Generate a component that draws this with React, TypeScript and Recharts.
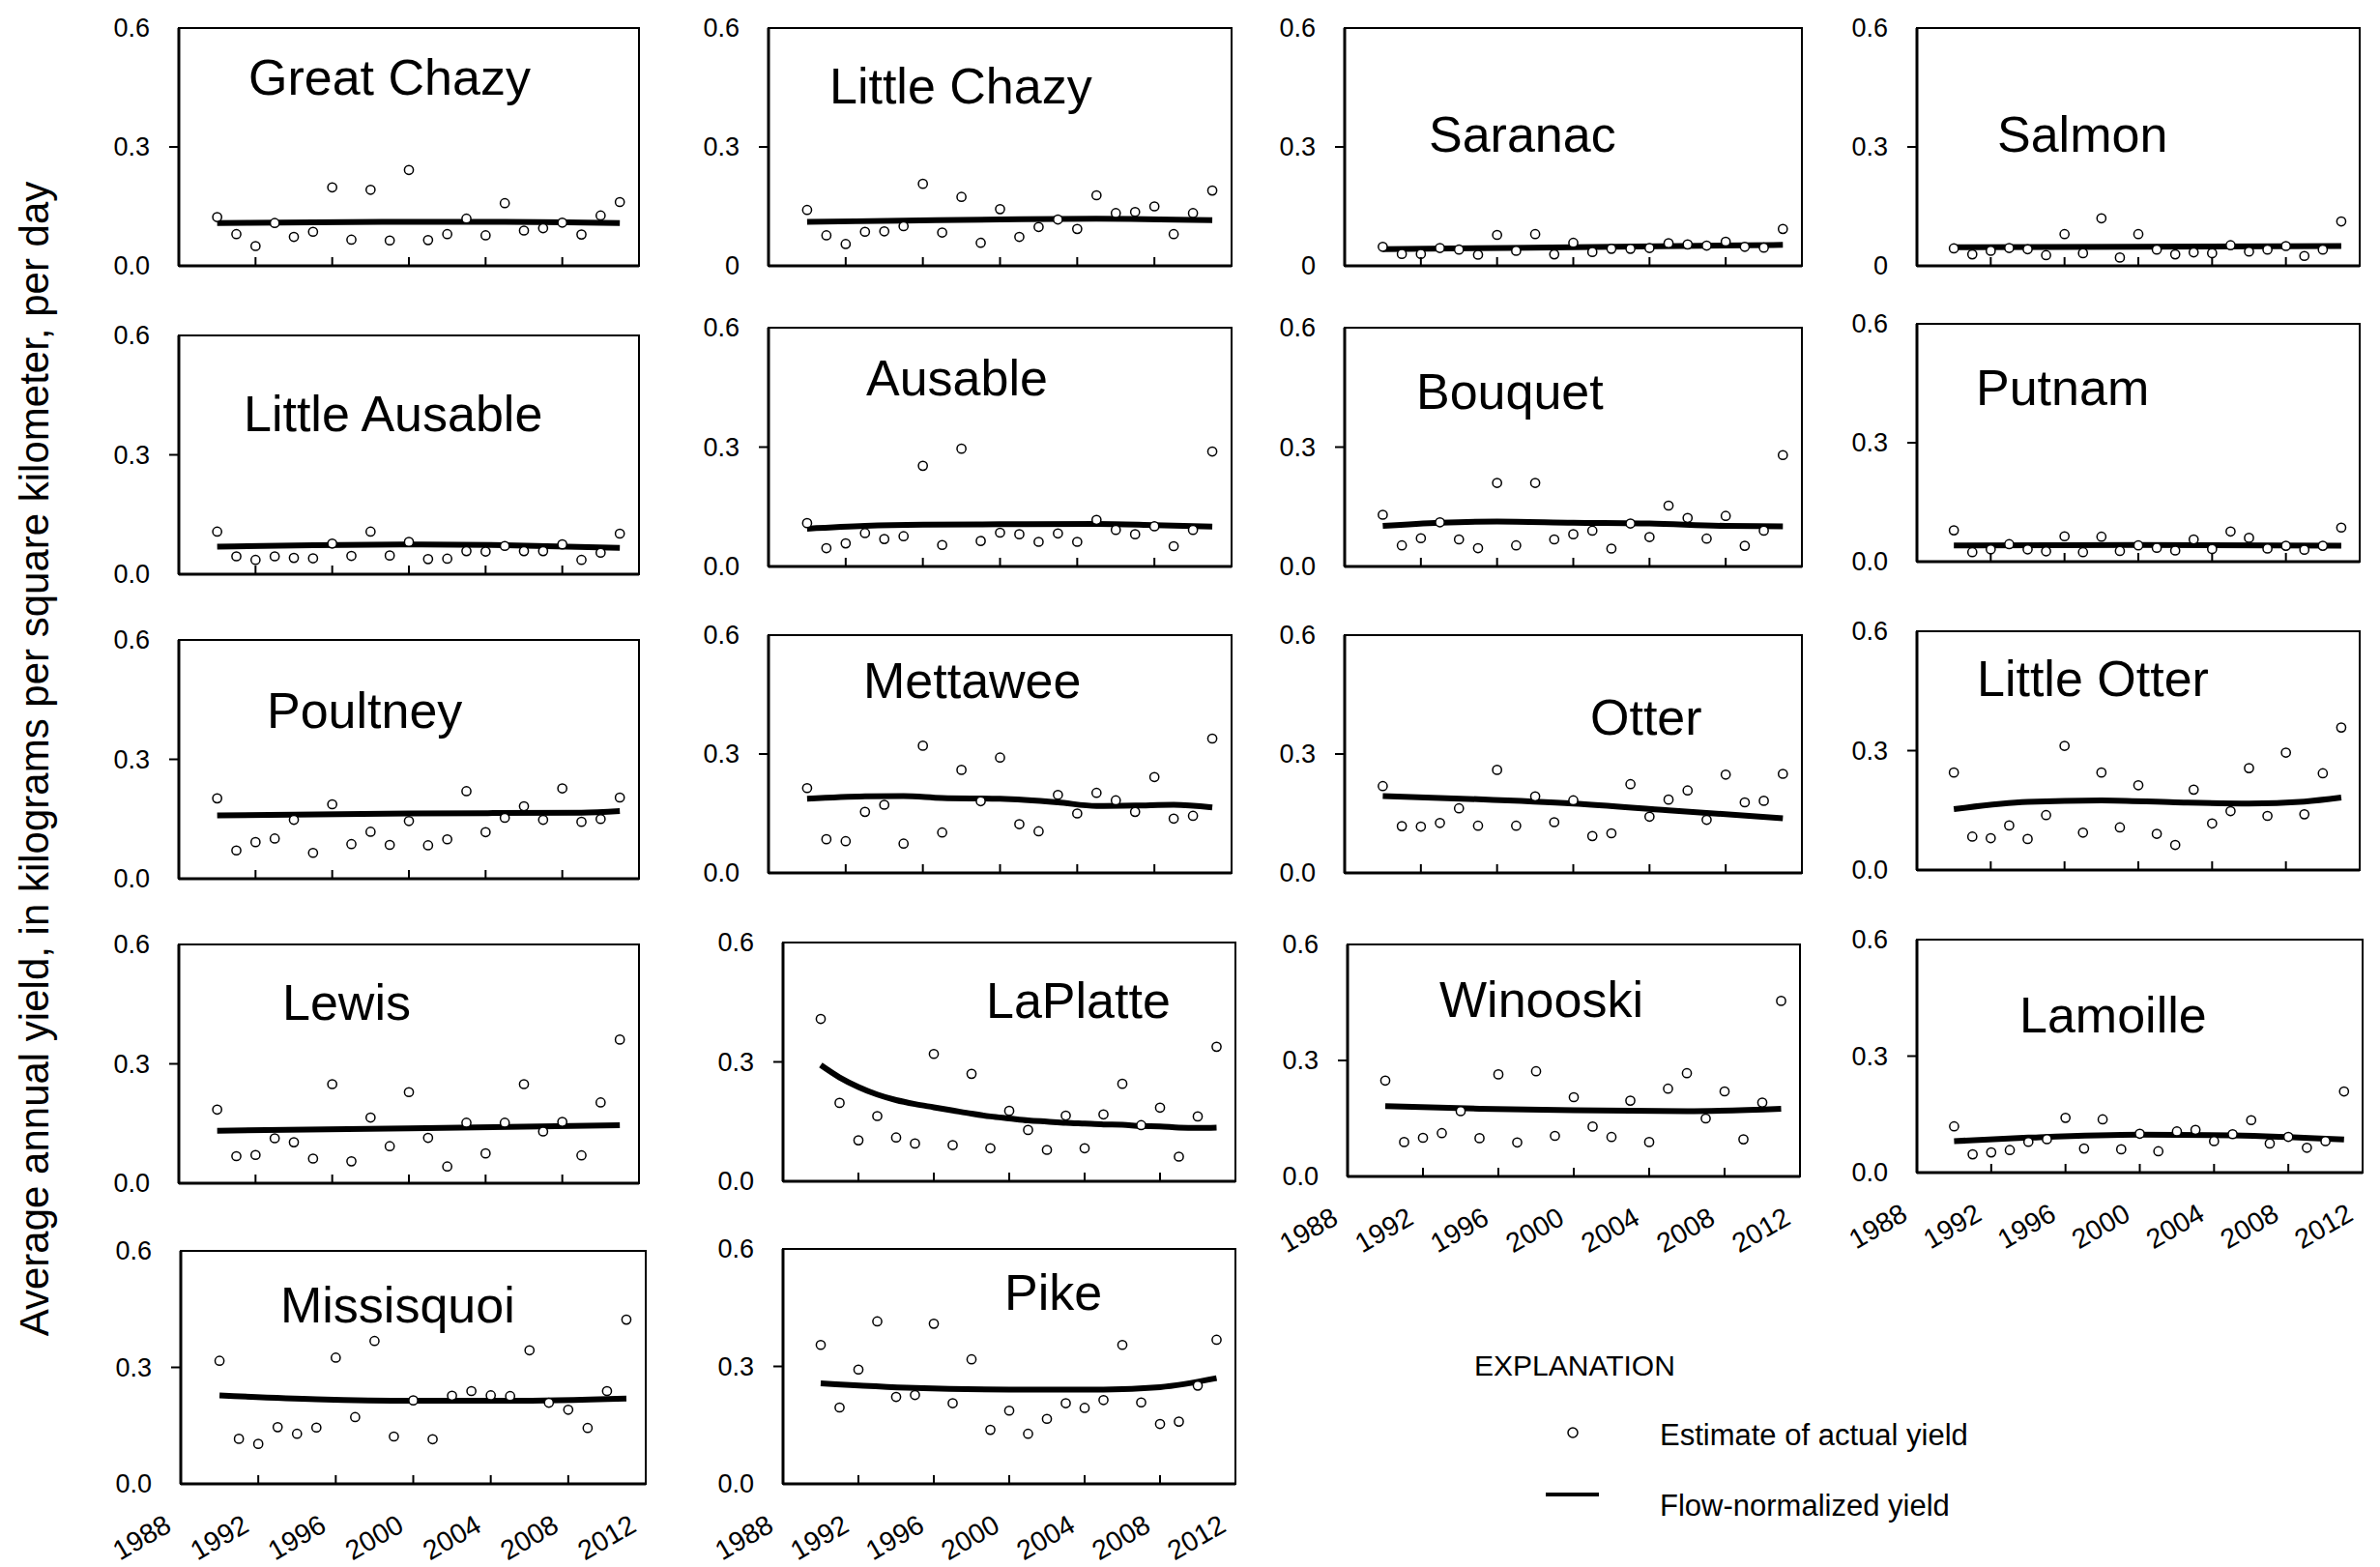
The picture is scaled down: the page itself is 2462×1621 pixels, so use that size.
import React from "react";
import { ComposedChart, XAxis, YAxis, Scatter, Line, ReferenceArea } from "recharts";

const YEARS = [1990, 1991, 1992, 1993, 1994, 1995, 1996, 1997, 1998, 1999, 2000, 2001, 2002, 2003, 2004, 2005, 2006, 2007, 2008, 2009, 2010, 2011];
const X_TICKS = [1988, 1992, 1996, 2000, 2004, 2008, 2012];
const Y_TICKS = [0, 0.3, 0.6];
const Y_LABEL = "Average annual yield, in kilograms per square kilometer, per day";
const LEGEND_TITLE = "EXPLANATION";
const LEGEND_EST = "Estimate of actual yield";
const LEGEND_FN = "Flow-normalized yield";

// Estimates of actual yield (1990-2011)
const greatChazyEst = [0.123, 0.080, 0.050, 0.108, 0.073, 0.086, 0.198, 0.066, 0.192, 0.064, 0.242, 0.065, 0.080, 0.119, 0.077, 0.158, 0.089, 0.095, 0.109, 0.079, 0.127, 0.161];
const littleChazyEst = [0.141, 0.077, 0.055, 0.086, 0.087, 0.100, 0.207, 0.084, 0.174, 0.058, 0.143, 0.073, 0.098, 0.117, 0.093, 0.178, 0.133, 0.136, 0.150, 0.080, 0.133, 0.190];
const saranacEst = [0.048, 0.030, 0.030, 0.045, 0.041, 0.028, 0.078, 0.038, 0.080, 0.029, 0.058, 0.035, 0.043, 0.043, 0.045, 0.057, 0.054, 0.051, 0.061, 0.048, 0.046, 0.093];
const salmonEst = [0.044, 0.029, 0.038, 0.045, 0.042, 0.027, 0.080, 0.032, 0.120, 0.021, 0.080, 0.041, 0.029, 0.034, 0.032, 0.052, 0.036, 0.041, 0.050, 0.025, 0.041, 0.112];
const littleAusableEst = [0.107, 0.045, 0.036, 0.045, 0.041, 0.040, 0.077, 0.046, 0.107, 0.047, 0.081, 0.038, 0.039, 0.058, 0.057, 0.071, 0.058, 0.058, 0.075, 0.036, 0.054, 0.102];
const ausableEst = [0.109, 0.046, 0.058, 0.084, 0.069, 0.076, 0.253, 0.054, 0.296, 0.064, 0.085, 0.081, 0.062, 0.083, 0.062, 0.117, 0.092, 0.081, 0.101, 0.051, 0.092, 0.289];
const bouquetEst = [0.130, 0.053, 0.071, 0.111, 0.068, 0.046, 0.210, 0.053, 0.210, 0.068, 0.081, 0.090, 0.045, 0.108, 0.074, 0.153, 0.122, 0.070, 0.127, 0.052, 0.090, 0.280];
const putnamEst = [0.079, 0.024, 0.031, 0.044, 0.031, 0.026, 0.064, 0.024, 0.063, 0.027, 0.041, 0.035, 0.028, 0.056, 0.032, 0.076, 0.060, 0.033, 0.040, 0.030, 0.040, 0.086];
const poultneyEst = [0.202, 0.071, 0.092, 0.101, 0.148, 0.065, 0.187, 0.087, 0.118, 0.085, 0.145, 0.084, 0.099, 0.220, 0.117, 0.153, 0.182, 0.148, 0.227, 0.143, 0.150, 0.204];
const mettaweeEst = [0.214, 0.085, 0.080, 0.154, 0.172, 0.074, 0.321, 0.102, 0.260, 0.181, 0.291, 0.123, 0.105, 0.197, 0.150, 0.202, 0.183, 0.154, 0.242, 0.137, 0.144, 0.339];
const otterEst = [0.219, 0.118, 0.117, 0.126, 0.163, 0.119, 0.260, 0.119, 0.193, 0.128, 0.183, 0.093, 0.100, 0.224, 0.142, 0.185, 0.208, 0.134, 0.248, 0.178, 0.182, 0.250];
const littleOtterEst = [0.245, 0.084, 0.080, 0.112, 0.078, 0.138, 0.312, 0.094, 0.245, 0.107, 0.213, 0.091, 0.063, 0.202, 0.117, 0.148, 0.256, 0.136, 0.295, 0.140, 0.243, 0.358];
const lewisEst = [0.185, 0.068, 0.071, 0.113, 0.103, 0.062, 0.249, 0.055, 0.165, 0.093, 0.229, 0.114, 0.042, 0.152, 0.075, 0.152, 0.249, 0.130, 0.154, 0.070, 0.203, 0.361];
const laPlatteEst = [0.408, 0.197, 0.103, 0.164, 0.110, 0.095, 0.320, 0.091, 0.270, 0.083, 0.177, 0.129, 0.079, 0.165, 0.083, 0.168, 0.245, 0.141, 0.185, 0.062, 0.163, 0.338];
const winooskiEst = [0.248, 0.089, 0.100, 0.112, 0.169, 0.099, 0.264, 0.088, 0.272, 0.105, 0.205, 0.129, 0.102, 0.196, 0.089, 0.227, 0.267, 0.150, 0.220, 0.096, 0.191, 0.454];
const lamoilleEst = [0.119, 0.047, 0.052, 0.058, 0.079, 0.086, 0.141, 0.062, 0.137, 0.060, 0.100, 0.055, 0.106, 0.110, 0.081, 0.099, 0.135, 0.075, 0.092, 0.064, 0.081, 0.209];
const missisquoiEst = [0.317, 0.116, 0.103, 0.146, 0.129, 0.145, 0.325, 0.172, 0.368, 0.122, 0.215, 0.115, 0.227, 0.239, 0.228, 0.226, 0.344, 0.209, 0.191, 0.144, 0.239, 0.423];
const pikeEst = [0.355, 0.195, 0.292, 0.415, 0.222, 0.227, 0.409, 0.206, 0.318, 0.138, 0.187, 0.128, 0.166, 0.206, 0.194, 0.214, 0.355, 0.208, 0.153, 0.159, 0.251, 0.368];

// Flow-normalized yield, read at selected years
const greatChazyFnYears = [1990, 1995, 2000, 2005, 2011];
const greatChazyFn = [0.108, 0.110, 0.111, 0.111, 0.108];
const littleChazyFnYears = [1990, 1995, 2000, 2005, 2011];
const littleChazyFn = [0.111, 0.114, 0.117, 0.119, 0.115];
const saranacFnYears = [1990, 2000, 2011];
const saranacFn = [0.042, 0.047, 0.053];
const salmonFnYears = [1990, 2000, 2011];
const salmonFn = [0.047, 0.048, 0.050];
const littleAusableFnYears = [1990, 1995, 2000, 2005, 2011];
const littleAusableFn = [0.069, 0.073, 0.075, 0.073, 0.066];
const ausableFnYears = [1990, 1993, 1996, 2000, 2005, 2008, 2011];
const ausableFn = [0.095, 0.102, 0.105, 0.106, 0.107, 0.104, 0.100];
const bouquetFnYears = [1990, 1993, 1996, 2000, 2004, 2008, 2011];
const bouquetFn = [0.102, 0.110, 0.113, 0.110, 0.108, 0.102, 0.101];
const putnamFnYears = [1990, 2000, 2011];
const putnamFn = [0.041, 0.042, 0.040];
const poultneyFnYears = [1990, 2000, 2009, 2011];
const poultneyFn = [0.159, 0.164, 0.166, 0.170];
const mettaweeFnYears = [1990, 1993, 1995, 1997, 2000, 2003, 2005, 2007, 2009, 2011];
const mettaweeFn = [0.187, 0.193, 0.194, 0.189, 0.187, 0.178, 0.169, 0.170, 0.172, 0.165];
const otterFnYears = [1990, 1995, 2000, 2005, 2011];
const otterFn = [0.194, 0.186, 0.175, 0.158, 0.138];
const littleOtterFnYears = [1990, 1994, 1998, 2002, 2006, 2009, 2011];
const littleOtterFn = [0.153, 0.171, 0.175, 0.170, 0.167, 0.172, 0.182];
const lewisFnYears = [1990, 2000, 2011];
const lewisFn = [0.132, 0.138, 0.146];
const laPlatteFnYears = [1990, 1991, 1992, 1993, 1994, 1995, 1996, 1997, 1998, 1999, 2000, 2001, 2002, 2003, 2004, 2005, 2006, 2007, 2008, 2009, 2010, 2011];
const laPlatteFn = [0.292, 0.261, 0.237, 0.218, 0.204, 0.194, 0.186, 0.178, 0.170, 0.163, 0.158, 0.153, 0.150, 0.147, 0.145, 0.143, 0.142, 0.139, 0.138, 0.135, 0.134, 0.135];
const winooskiFnYears = [1990, 1995, 2000, 2006, 2011];
const winooskiFn = [0.182, 0.175, 0.171, 0.169, 0.175];
const lamoilleFnYears = [1990, 1994, 2000, 2005, 2011];
const lamoilleFn = [0.081, 0.090, 0.098, 0.096, 0.085];
const missisquoiFnYears = [1990, 1995, 2000, 2005, 2011];
const missisquoiFn = [0.228, 0.218, 0.214, 0.214, 0.220];
const pikeFnYears = [1990, 1995, 2000, 2005, 2008, 2011];
const pikeFn = [0.257, 0.245, 0.241, 0.241, 0.247, 0.270];

type PanelDef = {
  name: string;
  est: number[];
  fnYears: number[];
  fn: number[];
  l: number; r: number; t: number; b: number;
  tx: number; ty: number;
  zero: string;
  showX: boolean;
};

const PANELS: PanelDef[] = [
  { name: "Great Chazy", est: greatChazyEst, fnYears: greatChazyFnYears, fn: greatChazyFn, l: 185, r: 661, t: 29, b: 275, tx: 257, ty: 98, zero: "0.0", showX: false },
  { name: "Little Chazy", est: littleChazyEst, fnYears: littleChazyFnYears, fn: littleChazyFn, l: 795, r: 1274, t: 29, b: 275, tx: 858, ty: 107, zero: "0", showX: false },
  { name: "Saranac", est: saranacEst, fnYears: saranacFnYears, fn: saranacFn, l: 1391, r: 1864, t: 29, b: 275, tx: 1478, ty: 157, zero: "0", showX: false },
  { name: "Salmon", est: salmonEst, fnYears: salmonFnYears, fn: salmonFn, l: 1983, r: 2441, t: 29, b: 275, tx: 2066, ty: 157, zero: "0", showX: false },
  { name: "Little Ausable", est: littleAusableEst, fnYears: littleAusableFnYears, fn: littleAusableFn, l: 185, r: 661, t: 347, b: 594, tx: 252, ty: 446, zero: "0.0", showX: false },
  { name: "Ausable", est: ausableEst, fnYears: ausableFnYears, fn: ausableFn, l: 795, r: 1274, t: 339, b: 586, tx: 896, ty: 409, zero: "0.0", showX: false },
  { name: "Bouquet", est: bouquetEst, fnYears: bouquetFnYears, fn: bouquetFn, l: 1391, r: 1864, t: 339, b: 586, tx: 1465, ty: 423, zero: "0.0", showX: false },
  { name: "Putnam", est: putnamEst, fnYears: putnamFnYears, fn: putnamFn, l: 1983, r: 2441, t: 335, b: 581, tx: 2044, ty: 419, zero: "0.0", showX: false },
  { name: "Poultney", est: poultneyEst, fnYears: poultneyFnYears, fn: poultneyFn, l: 185, r: 661, t: 662, b: 909, tx: 276, ty: 753, zero: "0.0", showX: false },
  { name: "Mettawee", est: mettaweeEst, fnYears: mettaweeFnYears, fn: mettaweeFn, l: 795, r: 1274, t: 657, b: 903, tx: 893, ty: 722, zero: "0.0", showX: false },
  { name: "Otter", est: otterEst, fnYears: otterFnYears, fn: otterFn, l: 1391, r: 1864, t: 657, b: 903, tx: 1645, ty: 760, zero: "0.0", showX: false },
  { name: "Little Otter", est: littleOtterEst, fnYears: littleOtterFnYears, fn: littleOtterFn, l: 1983, r: 2441, t: 653, b: 900, tx: 2045, ty: 720, zero: "0.0", showX: false },
  { name: "Lewis", est: lewisEst, fnYears: lewisFnYears, fn: lewisFn, l: 185, r: 661, t: 977, b: 1224, tx: 292, ty: 1055, zero: "0.0", showX: false },
  { name: "LaPlatte", est: laPlatteEst, fnYears: laPlatteFnYears, fn: laPlatteFn, l: 810, r: 1278, t: 975, b: 1222, tx: 1020, ty: 1053, zero: "0.0", showX: false },
  { name: "Winooski", est: winooskiEst, fnYears: winooskiFnYears, fn: winooskiFn, l: 1394, r: 1862, t: 977, b: 1217, tx: 1489, ty: 1052, zero: "0.0", showX: true },
  { name: "Lamoille", est: lamoilleEst, fnYears: lamoilleFnYears, fn: lamoilleFn, l: 1983, r: 2444, t: 972, b: 1213, tx: 2089, ty: 1068, zero: "0.0", showX: true },
  { name: "Missisquoi", est: missisquoiEst, fnYears: missisquoiFnYears, fn: missisquoiFn, l: 187, r: 668, t: 1294, b: 1535, tx: 290, ty: 1368, zero: "0.0", showX: true },
  { name: "Pike", est: pikeEst, fnYears: pikeFnYears, fn: pikeFn, l: 810, r: 1278, t: 1292, b: 1535, tx: 1039, ty: 1355, zero: "0.0", showX: true },
];

const FONT = "'Liberation Sans', Arial, sans-serif";
const LEFT_PAD = 100;
const TOP_PAD = 20;
const RIGHT_PAD = 12;
const X_AXIS_H = 86;

function XTick(props: any) {
  const { x, y, payload, show } = props;
  const v = payload.value;
  const inner = v > 1988 && v < 2012;
  const ax = x - 8;
  const ay = y + 48;
  return (
    <g>
      {inner && <line x1={x} x2={x} y1={y} y2={y - 9} stroke="#000" strokeWidth={2} />}
      {show && (
        <text x={ax} y={ay} transform={`rotate(-30, ${ax}, ${ay})`} textAnchor="end" fontSize={28.5} fontFamily={FONT} fill="#000">
          {v}
        </text>
      )}
    </g>
  );
}

function YTick(props: any) {
  const { x, y, payload, zero } = props;
  const v = payload.value;
  const label = v === 0 ? zero : v.toFixed(1);
  return (
    <g>
      {v > 0 && v < 0.6 && <line x1={x - 10} x2={x} y1={y} y2={y} stroke="#000" strokeWidth={2} />}
      <text x={x - 30} y={y} textAnchor="end" dominantBaseline="central" fontSize={27} fontFamily={FONT} fill="#000">
        {label}
      </text>
    </g>
  );
}

function Dot(props: any) {
  const { cx, cy } = props;
  if (cx == null || cy == null) return null;
  return <circle cx={cx} cy={cy} r={4.6} fill="#fff" stroke="#000" strokeWidth={1.5} />;
}

function Panel({ p }: { p: PanelDef }) {
  const w = p.r - p.l;
  const h = p.b - p.t;
  const estData = YEARS.map((yr, i) => ({ year: yr, est: p.est[i] }));
  const fnData = p.fnYears.map((yr, i) => ({ year: yr, fn: p.fn[i] }));
  return (
    <div style={{ position: "absolute", left: p.l - LEFT_PAD, top: p.t - TOP_PAD }}>
      <ComposedChart
        width={w + LEFT_PAD + RIGHT_PAD}
        height={h + TOP_PAD + X_AXIS_H}
        margin={{ top: TOP_PAD, right: RIGHT_PAD, bottom: 0, left: 0 }}
      >
        <XAxis
          type="number"
          dataKey="year"
          domain={[1988, 2012]}
          ticks={X_TICKS}
          interval={0}
          allowDataOverflow
          height={X_AXIS_H}
          axisLine={{ stroke: "#000", strokeWidth: 3 }}
          tickLine={false}
          tickSize={0}
          tickMargin={0}
          tick={(tp: any) => <XTick {...tp} show={p.showX} />}
        />
        <YAxis
          type="number"
          domain={[0, 0.6]}
          ticks={Y_TICKS}
          interval={0}
          allowDataOverflow
          width={LEFT_PAD}
          axisLine={{ stroke: "#000", strokeWidth: 3 }}
          tickLine={false}
          tickSize={0}
          tickMargin={0}
          tick={(tp: any) => <YTick {...tp} zero={p.zero} />}
        />
        <ReferenceArea x1={1988} x2={2012} y1={0} y2={0.6} fill="none" stroke="#000" strokeWidth={2} ifOverflow="visible" />
        <Line data={fnData} dataKey="fn" type="monotone" stroke="#000" strokeWidth={6} dot={false} activeDot={false} isAnimationActive={false} />
        <Scatter data={estData} dataKey="est" shape={Dot} isAnimationActive={false} />
      </ComposedChart>
    </div>
  );
}

export default function App() {
  return (
    <div style={{ position: "absolute", left: 0, top: 0, width: 2462, height: 1621, background: "#fff", overflow: "hidden" }}>
      {PANELS.map((p) => (
        <Panel key={p.name} p={p} />
      ))}
      <svg width={2462} height={1621} style={{ position: "absolute", left: 0, top: 0, pointerEvents: "none" }}>
        {PANELS.map((p) => (
          <text key={p.name} x={p.tx} y={p.ty} fontSize={52} fontFamily={FONT} fill="#000">
            {p.name}
          </text>
        ))}
        <text x={50} y={785} transform="rotate(-90, 50, 785)" textAnchor="middle" fontSize={42} fontFamily={FONT} fill="#000">
          {Y_LABEL}
        </text>
        <text x={1525} y={1423} fontSize={30} fontFamily={FONT} fill="#000">{LEGEND_TITLE}</text>
        <circle cx={1627} cy={1482} r={5} fill="#fff" stroke="#000" strokeWidth={1.5} />
        <text x={1717} y={1495} fontSize={31} fontFamily={FONT} fill="#000">{LEGEND_EST}</text>
        <line x1={1599} x2={1654} y1={1546} y2={1546} stroke="#000" strokeWidth={4} />
        <text x={1717} y={1568} fontSize={31} fontFamily={FONT} fill="#000">{LEGEND_FN}</text>
      </svg>
    </div>
  );
}
